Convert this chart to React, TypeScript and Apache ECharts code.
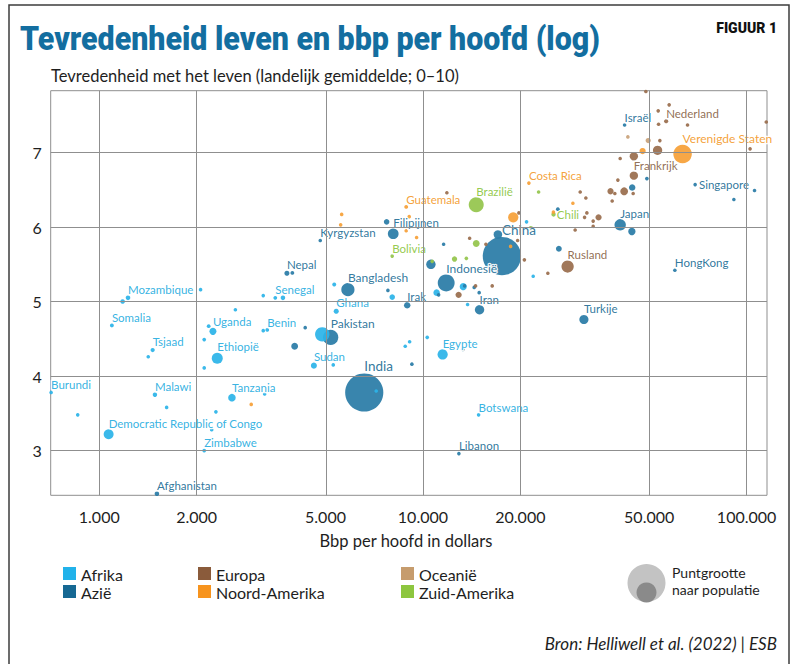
import React, { useEffect, useRef } from 'react';
import * as echarts from 'echarts';

// [bbp per hoofd ($), tevredenheid (0-10), bevolking (mln, geschat uit puntgrootte), label]
type P = [number, number, number, string];

const afrika: P[] = [
  [1227, 5.05, 20, 'Mozambique'], [1181, 5.0, 20, ''], [2056, 5.16, 11, ''],
  [3211, 5.08, 11, ''], [3498, 5.05, 14, 'Senegal'], [3694, 5.05, 20, ''],
  [2634, 4.89, 11, ''], [1094, 4.68, 15, 'Somalia'], [2178, 4.67, 14, ''],
  [2245, 4.6, 47, 'Uganda'], [2110, 4.49, 13, ''], [2315, 4.24, 116, 'Ethiopië'],
  [2110, 4.11, 12, ''], [1462, 4.35, 17, 'Tsjaad'], [1417, 4.26, 12, ''],
  [3304, 4.62, 13, 'Benin'], [3211, 4.61, 12, ''], [4886, 4.56, 200, ''],
  [4604, 4.14, 35, 'Sudan'], [5284, 4.15, 12, ''], [5321, 5.23, 15, ''],
  [5397, 4.87, 25, 'Ghana'], [10310, 4.52, 12, ''], [8818, 4.4, 12, ''],
  [9096, 4.46, 12, ''], [11505, 4.29, 100, 'Egypte'], [8038, 5.06, 30, ''],
  [11023, 5.12, 40, ''], [13318, 5.2, 48, ''], [13740, 4.96, 11, ''],
  [20900, 6.07, 11, ''], [21910, 5.34, 11, ''], [14860, 3.48, 11, 'Botswana'],
  [7172, 3.8, 11, ''], [710, 3.78, 13, 'Burundi'], [858, 3.48, 12, ''],
  [1486, 3.75, 19, 'Malawi'], [1615, 3.58, 12, ''], [2570, 3.71, 55, 'Tanzania'],
  [3243, 3.76, 9, ''], [2293, 3.52, 13, ''], [2225, 3.28, 9, ''],
  [1069, 3.22, 95, 'Democratic Republic of Congo'], [2110, 3.0, 14, 'Zimbabwe'],
];

const azie: P[] = [
  [41980, 7.37, 10, 'Israël'], [49190, 6.65, 13, ''], [44310, 6.53, 40, ''],
  [69340, 6.57, 10, 'Singapore'], [105800, 6.49, 10, ''], [91340, 6.37, 12, ''],
  [40680, 6.03, 125, 'Japan'], [44210, 5.94, 52, ''], [60030, 5.42, 10, 'HongKong'],
  [26110, 6.24, 14, ''], [26300, 5.71, 33, ''], [7724, 6.07, 30, ''],
  [8095, 5.91, 110, 'Filipijnen'], [11585, 5.77, 12, ''], [4817, 5.82, 10, 'Kyrgyzstan'],
  [17047, 5.9, 70, ''], [17538, 5.61, 1410, 'China'], [10583, 5.5, 85, ''],
  [11800, 5.25, 275, 'Indonesië'], [13453, 5.21, 12, ''], [14400, 5.19, 12, ''],
  [11180, 5.09, 12, ''], [14920, 5.12, 12, ''], [14960, 4.89, 85, 'Iran'],
  [8942, 4.95, 40, 'Irak'], [7795, 5.15, 12, ''], [3800, 5.38, 25, 'Nepal'],
  [3950, 5.385, 14, ''], [5864, 5.16, 168, 'Bangladesh'], [5187, 4.52, 225, 'Pakistan'],
  [4328, 4.65, 12, ''], [4015, 4.4, 45, ''], [9245, 4.16, 11, ''],
  [13290, 4.36, 14, ''], [6587, 3.78, 1400, 'India'], [31430, 4.76, 80, 'Turkije'],
  [12915, 2.96, 10, 'Libanon'], [1507, 2.42, 20, 'Afghanistan'],
];

const europa: P[] = [
  [48840, 7.82, 10, ''], [57640, 7.64, 10, ''], [53320, 7.56, 10, ''],
  [56430, 7.42, 17, 'Nederland'], [53460, 7.38, 10, ''], [65690, 7.37, 10, ''],
  [115000, 7.41, 10, ''], [53950, 7.16, 10, ''], [53080, 7.03, 83, ''],
  [102500, 7.05, 10, ''], [44840, 6.95, 67, ''], [40680, 6.92, 10, ''],
  [44840, 6.69, 67, 'Frankrijk'], [40020, 6.63, 10, ''], [37980, 6.48, 38, ''],
  [39170, 6.45, 10, ''], [41850, 6.48, 59, ''], [44620, 6.45, 10, ''],
  [31870, 6.39, 10, ''], [38430, 6.35, 10, ''], [30610, 6.47, 10, ''],
  [32100, 6.19, 10, ''], [31580, 6.13, 10, ''], [34880, 6.13, 38, ''],
  [33570, 6.08, 10, ''], [33570, 6.01, 10, ''], [29530, 5.96, 10, ''],
  [19790, 6.19, 10, ''], [11857, 6.46, 10, ''], [13940, 5.85, 10, ''],
  [15650, 5.77, 10, ''], [19610, 5.82, 10, ''], [20580, 5.56, 10, ''],
  [27990, 5.47, 145, 'Rusland'], [24320, 5.38, 10, ''], [14540, 5.21, 10, ''],
  [16370, 5.21, 10, ''], [12890, 5.09, 38, ''],
];

const noordAmerika: P[] = [
  [47710, 7.02, 38, ''], [63410, 6.98, 330, 'Verenigde Staten'],
  [21250, 6.59, 10, 'Costa Rica'], [29060, 6.32, 10, ''], [25300, 6.2, 12, ''],
  [19010, 6.13, 100, ''], [18660, 5.74, 11, ''], [8878, 6.27, 14, 'Guatemala'],
  [9070, 6.14, 10, ''], [8878, 5.95, 10, ''], [9560, 5.86, 10, ''],
  [5610, 6.17, 10, ''], [5570, 6.03, 10, ''], [2948, 3.62, 11, ''],
];

const oceanie: P[] = [
  [42970, 7.21, 10, ''], [49650, 7.16, 26, ''],
];

const zuidAmerika: P[] = [
  [14610, 6.3, 215, 'Brazilië'], [22770, 6.47, 10, ''], [25330, 6.17, 19, 'Chili'],
  [21560, 5.98, 25, ''], [14610, 5.78, 45, ''], [12520, 5.57, 28, ''],
  [13620, 5.58, 12, ''], [10680, 5.54, 12, ''], [8035, 5.61, 12, 'Bolivia'],
];

const xTickValues = [1000, 2000, 5000, 10000, 20000, 50000, 100000];
const xTickLabels = ['1.000', '2.000', '5.000', '10.000', '20.000', '50.000', '100.000'];
const yTickValues = [3, 4, 5, 6, 7];
const yTickLabels = ['3', '4', '5', '6', '7'];

const TITLE = 'Tevredenheid leven en bbp per hoofd (log)';
const Y_TITLE = 'Tevredenheid met het leven (landelijk gemiddelde; 0–10)';
const X_TITLE = 'Bbp per hoofd in dollars';
const SOURCE = 'Bron: Helliwell et al. (2022) | ESB';

const regions = [
  { name: 'Afrika', data: afrika, color: '#2cb4e8', text: '#27ade0', legend: '#21b2ea' },
  { name: 'Azië', data: azie, color: '#2a7ca7', text: '#236e96', legend: '#166893' },
  { name: 'Europa', data: europa, color: '#9a6e4d', text: '#8a6448', legend: '#8a5b3b' },
  { name: 'Noord-Amerika', data: noordAmerika, color: '#f6a038', text: '#f39a2c', legend: '#f7941e' },
  { name: 'Oceanië', data: oceanie, color: '#c9a27b', text: '#b88f66', legend: '#c69c6d' },
  { name: 'Zuid-Amerika', data: zuidAmerika, color: '#94c54c', text: '#8dc63f', legend: '#8dc63f' },
];

const labelTweaks: Record<string, any> = {
  'Verenigde Staten': { offset: [-16, 1], fontSize: 12 },
  Singapore: { position: 'right', offset: [1, 0], distance: 2 },
  Chili: { position: 'right', offset: [0, 3], distance: 1 },
  Pakistan: { offset: [5, 7], fontSize: 12 },
  Egypte: { offset: [-8, 1] },
  China: { offset: [2, 5], fontSize: 13.5 },
  India: { offset: [1, 4], fontSize: 13.5 },
  'Indonesië': { offset: [0.5, 3], fontSize: 12 },
  Bangladesh: { offset: [1.5, 3], fontSize: 12 },
  'Ethiopië': { offset: [1, 1.5] },
};

const sizeOf = (pop: number) => Math.max(3.6, 1.02 * Math.sqrt(pop));

export default function App() {
  const ref = useRef<HTMLDivElement>(null);
  useEffect(() => {
    const chart = echarts.init(ref.current!, undefined, { renderer: 'svg' });

    const TITLE_FONT = '900 34px Roboto';
    const ctx = document.createElement('canvas').getContext('2d')!;
    ctx.font = TITLE_FONT;
    const tw = ctx.measureText(TITLE).width || 700;
    const titleScale = 580 / tw;

    const pts = regions.flatMap((r) => r.data.map((d) => ({ r, gdp: d[0], sat: d[1], pop: d[2], name: d[3] })));
    pts.sort((a, b) => b.pop - a.pop);

    const data = pts.map((p) => {
      const t = labelTweaks[p.name] || {};
      return {
        value: [Math.log10(p.gdp), p.sat],
        name: p.name,
        symbolSize: sizeOf(p.pop),
        itemStyle: { color: p.r.color, opacity: 0.93 },
        label: {
          show: !!p.name,
          formatter: p.name,
          position: t.position || 'top',
          align: 'left',
          distance: t.distance ?? 0,
          offset: t.offset || [0.5, 1],
          color: p.r.text,
          fontFamily: 'Lato',
          fontSize: t.fontSize || 11.5,
          textBorderColor: '#ffffff',
          textBorderWidth: 2.5,
        },
      };
    });

    const gridLineData: any[] = [
      ...xTickValues.map((v) => ({ xAxis: Math.log10(v) })),
      ...yTickValues.map((v) => ({ yAxis: v })),
    ];

    const legendGraphics: any[] = [];
    const cols = [63, 198, 401];
    regions.forEach((r, i) => {
      const col = Math.floor(i / 2);
      const row = i % 2;
      const x = cols[col];
      const y = 567 + row * 18;
      legendGraphics.push({ type: 'rect', shape: { x, y, width: 13, height: 13 }, style: { fill: r.legend } });
      legendGraphics.push({
        type: 'text', x: x + 18, y: y + 7,
        style: { text: r.name, font: '16px Lato', lineHeight: 15, fill: '#1e1e1e', verticalAlign: 'middle', align: 'left' },
      });
    });

    const option: any = {
      animation: false,
      backgroundColor: '#ffffff',
      grid: { left: 50.7, right: 26, top: 90.7, bottom: 168.7, show: true, borderColor: '#8f8f8f', borderWidth: 1, backgroundColor: 'transparent' },
      xAxis: {
        type: 'value', min: 2.85, max: 5.063,
        axisLine: { show: false }, axisTick: { show: false }, splitLine: { show: false },
        axisLabel: {
          customValues: xTickValues.map((v) => Math.log10(v)),
          formatter: (v: number) => {
            let best = 0;
            xTickValues.forEach((t, i) => { if (Math.abs(Math.log10(t) - v) < Math.abs(Math.log10(xTickValues[best]) - v)) best = i; });
            return xTickLabels[best];
          },
          margin: 13, color: '#1e1e1e', fontFamily: 'Lato', fontSize: 16,
        },
      },
      yAxis: {
        type: 'value', min: 2.4, max: 7.83,
        axisLine: { show: false }, axisTick: { show: false }, splitLine: { show: false },
        axisLabel: {
          customValues: yTickValues,
          formatter: (v: number) => {
            const i = yTickValues.indexOf(Math.round(v));
            return i >= 0 ? yTickLabels[i] : '';
          },
          margin: 9, color: '#1e1e1e', fontFamily: 'Lato', fontSize: 16,
        },
      },
      series: [
        {
          type: 'scatter', data: [], z: 1, silent: true,
          markLine: {
            silent: true, symbol: ['none', 'none'], label: { show: false },
            lineStyle: { color: '#8f8f8f', width: 1, type: 'solid' },
            data: gridLineData,
          },
        },
        {
          type: 'scatter', z: 2, clip: false, symbol: 'circle', data,
          labelLayout: { hideOverlap: false },
        },
      ],
      graphic: [
        { type: 'rect', shape: { x: 9, y: 5, width: 780, height: 720 }, style: { fill: 'none', stroke: '#3c3c3c', lineWidth: 1.5 }, z: 10 },
        {
          type: 'text', x: 20, y: 38, scaleX: titleScale,
          style: { text: TITLE, font: TITLE_FONT, fill: '#136ea0', verticalAlign: 'middle', align: 'left' },
        },
        {
          type: 'text', x: 777, y: 28,
          style: { text: 'FIGUUR 1', font: '900 14px Roboto', fill: '#111', verticalAlign: 'middle', align: 'right' },
        },
        {
          type: 'text', x: 51, y: 76,
          style: { text: Y_TITLE, font: '16.5px Lato', fill: '#1e1e1e', verticalAlign: 'middle', align: 'left' },
        },
        {
          type: 'text', x: 406, y: 541,
          style: { text: X_TITLE, font: '16.5px Lato', fill: '#1e1e1e', verticalAlign: 'middle', align: 'center' },
        },
        ...legendGraphics,
        { type: 'circle', shape: { cx: 646.5, cy: 583, r: 19 }, style: { fill: '#c3c3c3' } },
        { type: 'circle', shape: { cx: 646.5, cy: 592.5, r: 10 }, style: { fill: '#8a8a8a' } },
        {
          type: 'text', x: 672, y: 572,
          style: { text: 'Puntgrootte', font: '14px Lato', lineHeight: 15, fill: '#1e1e1e', verticalAlign: 'middle', align: 'left' },
        },
        {
          type: 'text', x: 672, y: 589,
          style: { text: 'naar populatie', font: '14px Lato', lineHeight: 15, fill: '#1e1e1e', verticalAlign: 'middle', align: 'left' },
        },
        {
          type: 'text', x: 777, y: 643,
          style: { text: SOURCE, font: 'italic 17px Lato', fill: '#1e1e1e', verticalAlign: 'middle', align: 'right' },
        },
      ],
    };
    chart.setOption(option);
    return () => chart.dispose();
  }, []);
  return <div ref={ref} style={{ position: 'fixed', left: 0, top: 0, width: 793, height: 664, background: '#fff' }} />;
}
